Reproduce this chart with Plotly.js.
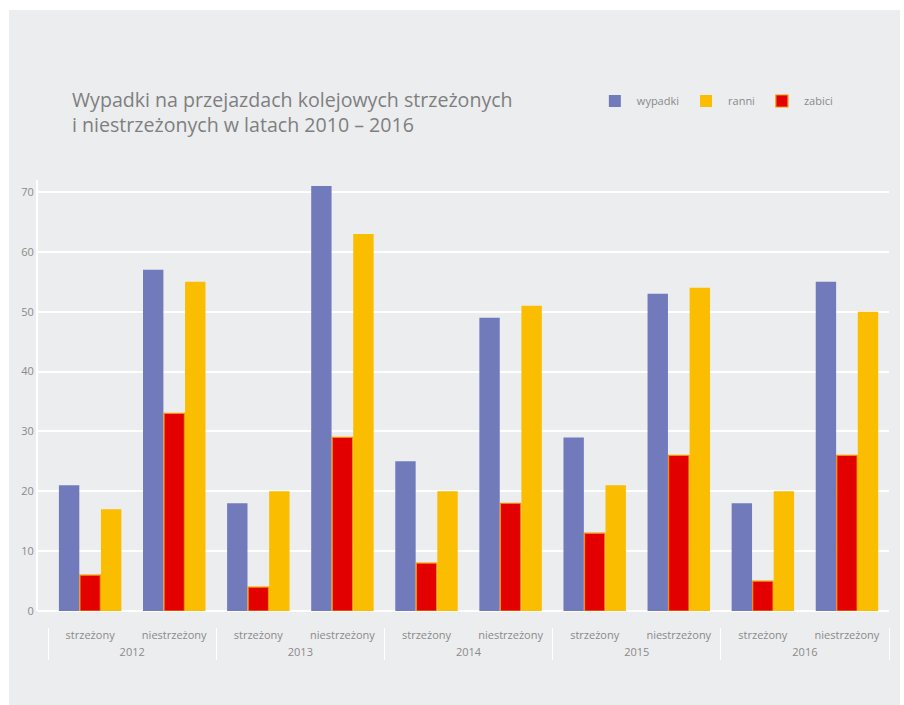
<!DOCTYPE html>
<html>
<head>
<meta charset="utf-8">
<script src="https://cdn.plot.ly/plotly-3.0.1.min.js"></script>
<style>
  html, body { margin: 0; padding: 0; background: #ffffff; }
  #chart { position: absolute; left: 9px; top: 10px; width: 891px; height: 695px; }
</style>
</head>
<body>
<div id="chart"></div>
<script>
// ---- data ----
const years = ["2012", "2013", "2014", "2015", "2016"];
const crossingTypes = ["strzeżony", "niestrzeżony"];
const wypadki = [21, 57, 18, 71, 25, 49, 29, 53, 18, 55];
const zabici  = [6, 33, 4, 29, 8, 18, 13, 26, 5, 26];
const ranni   = [17, 55, 20, 63, 20, 51, 21, 54, 20, 50];
const yTicks  = [0, 10, 20, 30, 40, 50, 60, 70];

// build multicategory x
const xYear = [], xType = [];
years.forEach(y => crossingTypes.forEach(t => { xYear.push(y); xType.push(t); }));
const x = [xYear, xType];

const fontFam = "Open Sans, Lato, sans-serif";
const traces = [
  { type: "bar", name: "wypadki", x: x, y: wypadki, legendrank: 1,
    marker: { color: "#717bbb", line: { width: 0 } } },
  { type: "bar", name: "zabici", x: x, y: zabici, legendrank: 3,
    marker: { color: "#e30000", line: { color: "#f39200", width: 1.2 } } },
  { type: "bar", name: "ranni", x: x, y: ranni, legendrank: 2,
    marker: { color: "#fabd00", line: { width: 0 } } }
];

const layout = {
  width: 891, height: 695,
  paper_bgcolor: "#ecedef", plot_bgcolor: "#ecedef",
  font: { family: fontFam, color: "#8a8a8a", size: 11 },
  margin: { l: 29, r: 11, t: 170, b: 78 },
  barmode: "group", bargap: 0.25, bargroupgap: 0.03,
  title: {
    text: "Wypadki na przejazdach kolejowych strzeżonych<br>i niestrzeżonych w latach 2010 – 2016",
    x: 63 / 891, xanchor: "left", xref: "container",
    y: 1 - 97 / 695, yanchor: "middle", yref: "container",
    font: { family: fontFam, size: 19.6, color: "#7f7f7f" }
  },
  showlegend: true,
  legend: {
    orientation: "h", x: 0.652, xanchor: "left", y: 1 - 91 / 695, yanchor: "middle",
    yref: "container", bgcolor: "rgba(0,0,0,0)", font: { size: 11, color: "#8a8a8a" },
    traceorder: "normal", itemwidth: 34
  },
  xaxis: {
    type: "multicategory", range: [-0.62, 9.5],
    anchor: "free", position: 0,
    showgrid: false, showline: false, zeroline: false,
    ticks: "", showdividers: true, dividercolor: "#ffffff", dividerwidth: 1,
    tickfont: { size: 11, color: "#8a8a8a" }
  },
  yaxis: {
    domain: [16 / 447, 1],
    range: [0, 72], tickvals: yTicks, ticktext: yTicks.map(String),
    showgrid: true, gridcolor: "#ffffff", gridwidth: 2,
    showline: true, linecolor: "#ffffff", linewidth: 2,
    zeroline: true, zerolinecolor: "#ffffff", zerolinewidth: 2,
    ticks: "", tickfont: { size: 11, color: "#8a8a8a" }
  }
};

Plotly.newPlot("chart", traces, layout, { displayModeBar: false, staticPlot: true });
</script>
</body>
</html>
